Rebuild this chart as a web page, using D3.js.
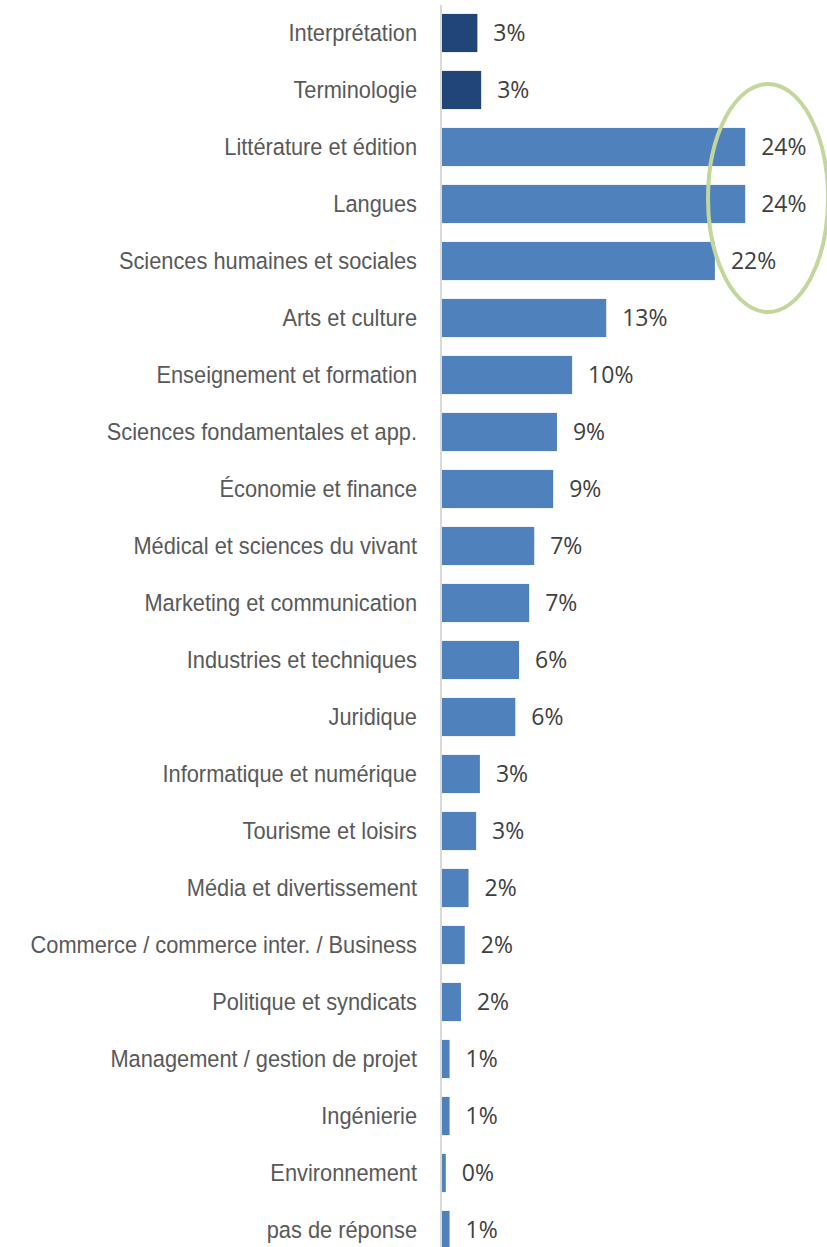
<!DOCTYPE html>
<html>
<head>
<meta charset="utf-8">
<script src="https://cdn.jsdelivr.net/npm/d3@7/dist/d3.min.js"></script>
<style>
  html, body { margin: 0; padding: 0; background: #fff; }
  svg { display: block; }
</style>
</head>
<body>
<svg id="chart" width="827" height="1247"></svg>
<script>
// Domaines de spécialisation (part des répondants, %)
const categories = [
  "Interprétation", "Terminologie", "Littérature et édition", "Langues",
  "Sciences humaines et sociales", "Arts et culture", "Enseignement et formation",
  "Sciences fondamentales et app.", "Économie et finance",
  "Médical et sciences du vivant", "Marketing et communication",
  "Industries et techniques", "Juridique", "Informatique et numérique",
  "Tourisme et loisirs", "Média et divertissement",
  "Commerce / commerce inter. / Business", "Politique et syndicats",
  "Management / gestion de projet", "Ingénierie", "Environnement", "pas de réponse"
];
const values = [
  2.8, 3.1, 24.0, 24.0, 21.6, 13.0, 10.3, 9.1, 8.8, 7.3, 6.9,
  6.1, 5.8, 3.0, 2.7, 2.1, 1.8, 1.5, 0.6, 0.6, 0.3, 0.6
];
// Catégories mises en avant (couleur foncée)
const highlighted = ["Interprétation", "Terminologie"];
// Catégories entourées
const circled = ["Littérature et édition", "Langues", "Sciences humaines et sociales"];

const data = categories.map((c, i) => ({ cat: c, v: values[i] }));

const svg = d3.select("#chart");
const x0 = 442;
const labelScaleX = 0.89;   // libellés légèrement condensés
const labelGap = 24;

const x = d3.scaleLinear().domain([0, 30]).range([x0, x0 + 379]);
const y = d3.scaleBand()
  .domain(categories)
  .range([4.5, 4.5 + categories.length * 57])
  .paddingInner(0.33)
  .paddingOuter(0.165);

// Barres
svg.append("g").selectAll("rect")
  .data(data)
  .join("rect")
  .attr("x", x(0))
  .attr("y", d => y(d.cat))
  .attr("width", d => x(d.v) - x(0))
  .attr("height", y.bandwidth())
  .attr("fill", d => highlighted.includes(d.cat) ? "#1f4677" : "#4f81bd");

// Axe vertical
svg.append("line")
  .attr("x1", x0 - 1).attr("x2", x0 - 1)
  .attr("y1", 5).attr("y2", 1247)
  .attr("stroke", "#d9d9d9")
  .attr("stroke-width", 2);

// Libellés des catégories
const yAxis = d3.axisLeft(y).tickSize(0).tickPadding(0);
const gy = svg.append("g").attr("transform", `translate(${x0 - 1},0)`).call(yAxis);
gy.select(".domain").remove();
gy.selectAll("text")
  .attr("x", -labelGap / labelScaleX)
  .attr("transform", `scale(${labelScaleX},1)`)
  .attr("fill", "#595959")
  .style("font-family", "'Liberation Sans', Arial, sans-serif")
  .style("font-size", "24.5px");

// Valeurs
svg.append("g").selectAll("text")
  .data(data)
  .join("text")
  .attr("x", d => x(d.v) + 16)
  .attr("y", d => y(d.cat) + y.bandwidth() / 2)
  .attr("dy", "0.36em")
  .attr("fill", "#404040")
  .style("font-family", "'Open Sans', 'Noto Sans', sans-serif")
  .style("font-size", "23px")
  .text(d => Math.round(d.v) + "%");

// Ellipse autour des trois premiers domaines
const yTop = y(circled[0]);
const yBot = y(circled[circled.length - 1]) + y.bandwidth();
svg.append("ellipse")
  .attr("cx", 768)
  .attr("cy", (yTop + yBot) / 2 - 6)
  .attr("rx", 60)
  .attr("ry", 114)
  .attr("fill", "none")
  .attr("stroke", "#c3d69b")
  .attr("stroke-width", 4);
</script>
</body>
</html>
